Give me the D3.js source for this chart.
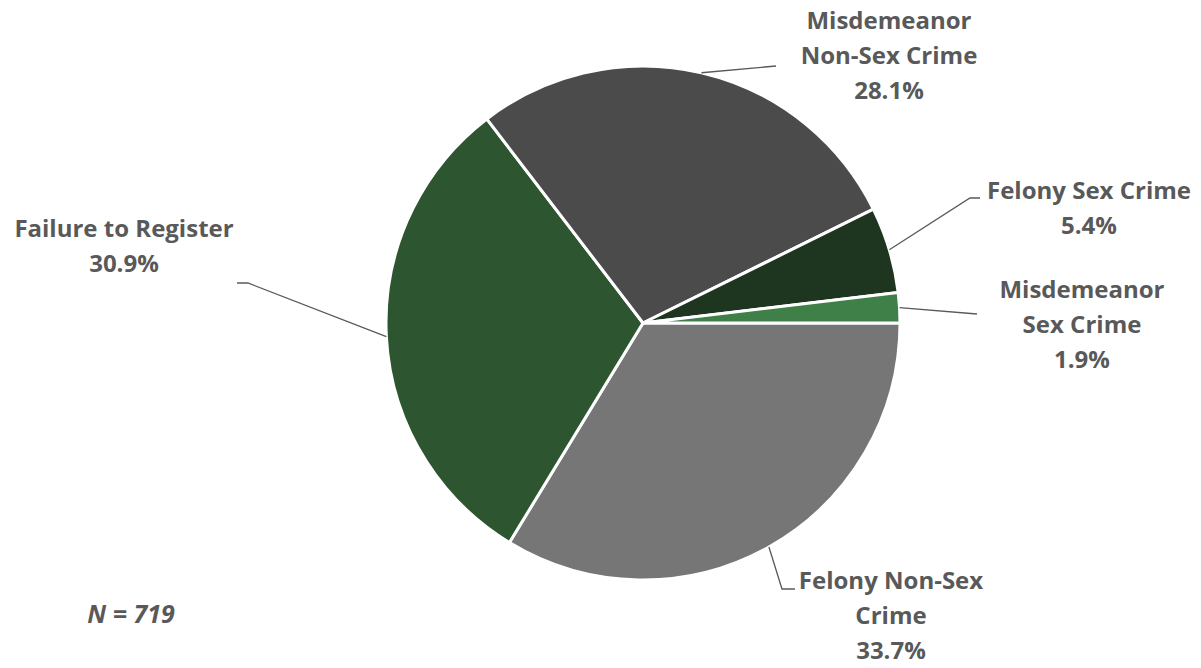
<!DOCTYPE html>
<html>
<head>
<meta charset="utf-8">
<script src="https://cdn.jsdelivr.net/npm/d3@7"></script>
<style>
  html, body { margin: 0; padding: 0; background: #ffffff; }
  svg { display: block; }
  .lbl { font-family: "Open Sans", Lato, sans-serif; font-weight: 700; fill: #595959; }
</style>
</head>
<body>
<svg id="chart" width="1201" height="668"></svg>
<script>
// Offense categories, in drawing order (clockwise from 3 o'clock)
const categories = [
  "Felony Non-Sex Crime",
  "Failure to Register",
  "Misdemeanor Non-Sex Crime",
  "Felony Sex Crime",
  "Misdemeanor Sex Crime"
];
const percents = [33.7, 30.9, 28.1, 5.4, 1.9];
const labelLines = [
  ["Felony Non-Sex", "Crime"],
  ["Failure to Register"],
  ["Misdemeanor", "Non-Sex Crime"],
  ["Felony Sex Crime"],
  ["Misdemeanor", "Sex Crime"]
];
const sliceColors = ["#767676", "#2c5530", "#4b4b4b", "#1e3520", "#3e8048"];
const sampleNote = "N = 719";

const svg = d3.select("#chart");
const cx = 643, cy = 323, radius = 257;

const data = categories.map((c, i) => ({ name: c, value: percents[i], lines: labelLines[i], color: sliceColors[i] }));

const pie = d3.pie()
  .value(d => d.value)
  .sort(null)
  .startAngle(Math.PI / 2)
  .endAngle(Math.PI / 2 + 2 * Math.PI);

const arc = d3.arc().innerRadius(0).outerRadius(radius);
const arcs = pie(data);

const g = svg.append("g").attr("transform", `translate(${cx},${cy})`);

g.selectAll("path.slice")
  .data(arcs)
  .enter().append("path")
  .attr("class", "slice")
  .attr("d", arc)
  .attr("fill", d => d.data.color)
  .attr("stroke", "#ffffff")
  .attr("stroke-width", 3)
  .attr("stroke-linejoin", "round");

// Label placement: text center x, first baseline y, and leader-line bend points (page coords)
const labelLayout = [
  { x: 891, y: 589, bends: [[782, 589], [795, 589]] },
  { x: 124, y: 237, bends: [[248, 283], [237, 283]] },
  { x: 889, y: 29,  bends: [[776, 66]] },
  { x: 1089, y: 199, bends: [[970, 198], [980, 198]] },
  { x: 1082, y: 298, bends: [[977, 314]] }
];
const lineGap = 35;
const fontPx = 24;

arcs.forEach((a, i) => {
  const mid = (a.startAngle + a.endAngle) / 2;
  const start = [cx + radius * Math.sin(mid), cy - radius * Math.cos(mid)];
  const L = labelLayout[i];
  const pts = [start].concat(L.bends);
  svg.append("path")
    .attr("d", d3.line()(pts))
    .attr("fill", "none")
    .attr("stroke", "#595959")
    .attr("stroke-width", 1.3);

  const t = svg.append("text")
    .attr("class", "lbl")
    .attr("text-anchor", "middle")
    .attr("font-size", fontPx);
  const rows = a.data.lines.concat([a.data.value.toFixed(1) + "%"]);
  rows.forEach((r, k) => {
    t.append("tspan").attr("x", L.x).attr("y", L.y + k * lineGap).text(r);
  });
});

svg.append("text")
  .attr("class", "lbl")
  .attr("x", 131).attr("y", 623)
  .attr("text-anchor", "middle")
  .attr("font-size", 25)
  .attr("font-style", "italic")
  .text(sampleNote);
</script>
</body>
</html>
